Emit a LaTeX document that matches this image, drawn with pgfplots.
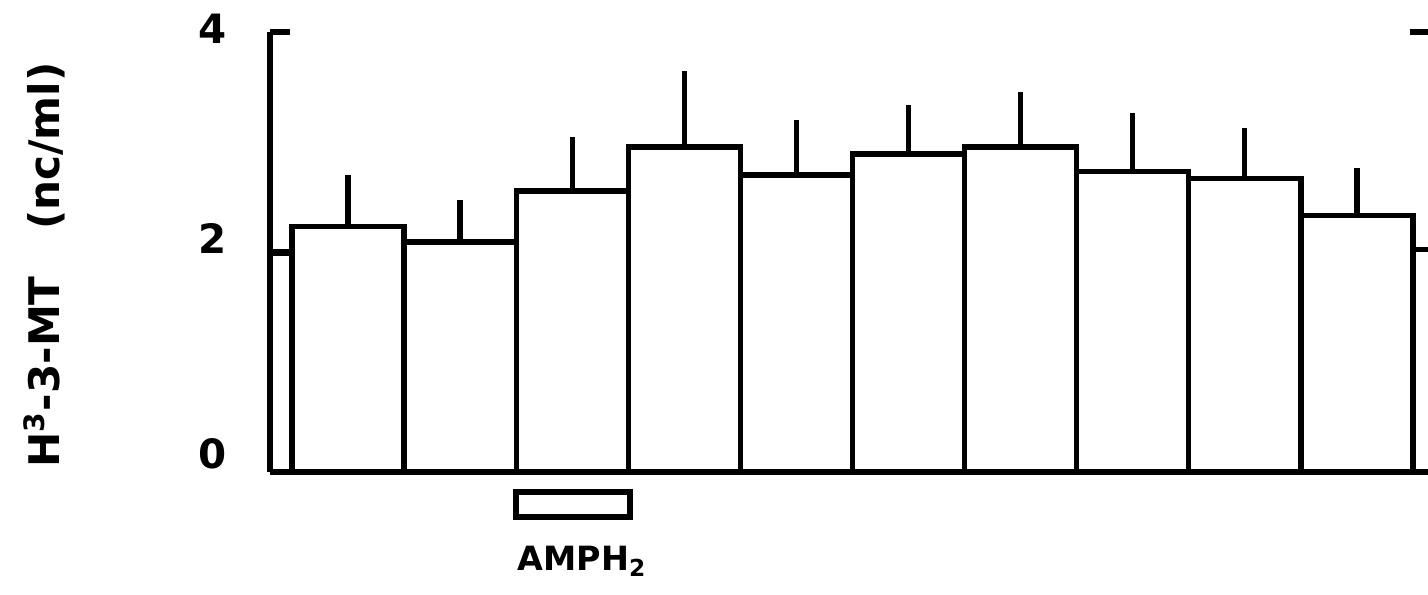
\documentclass[border=0pt]{standalone}
\usepackage{fontspec}
\setmainfont{DejaVu Sans}
\usepackage{graphicx}
\usepackage{pgfplots}
\pgfplotsset{compat=1.18}
\pgfplotstableread{
x y e
0 1.99 0
1 2.23 0.47
2 2.09 0.38
3 2.555 0.49
4 2.955 0.69
5 2.70 0.50
6 2.89 0.45
7 2.955 0.50
8 2.735 0.53
9 2.67 0.46
10 2.33 0.43
11 2.02 0
}\bars
\begin{document}
\begin{tikzpicture}
\begin{axis}[
  at={(0,0)}, anchor=south west,
  scale only axis, width=11.58cm, height=4.40cm,
  xmin=0.304, xmax=10.634, ymin=0, ymax=4,
  axis on top,
  axis x line=bottom, axis y line=left,
  axis line style={-, line width=1.5pt, black},
  xtick=\empty, ytick={0,2,4},
  yticklabels={\raisebox{0.18cm}[\height][\depth]{0},\raisebox{0.14cm}[\height][\depth]{2},\raisebox{0.03cm}[\height][\depth]{4}},
  tick align=inside, major tick length=0.2cm,
  tick style={line width=1.5pt, black},
  yticklabel style={font=\fontsize{11.5}{13}\selectfont\bfseries, anchor=east, xshift=-0.31cm},
  /pgf/number format/assume math mode=true,
  ylabel={H\textsuperscript{3}-3-MT\hspace{1.1em}(nc/ml)},
  ylabel style={at={(axis description cs:-0.195,0.47)}, anchor=center, font=\fontsize{12}{14}\selectfont\bfseries},
]
\addplot[ybar, bar width=1, fill=white, draw=black, line width=1.5pt,
  error bars/.cd, y dir=plus, y explicit, error mark=none,
  error bar style={line width=1.5pt, black}]
  table[x=x, y=y, y error=e] {\bars};
\coordinate (amphA) at (axis cs:2.499,-0.182);
\coordinate (amphB) at (axis cs:3.516,-0.409);
\coordinate (amphT) at (axis cs:2.508,-0.891);
\coordinate (rtA) at (axis cs:10.47,4);
\coordinate (rtB) at (axis cs:10.634,4);
\end{axis}
\draw[line width=1.5pt] (amphA) rectangle (amphB);
\node[anchor=base west, inner sep=0pt, font=\fontsize{9.5}{11}\selectfont\bfseries] at (amphT) {AMPH\textsubscript{2}};
\draw[line width=1.5pt] (rtA) -- (rtB);
\pgfresetboundingbox
\path (-2.70,-1.22) rectangle (11.58,4.72);
\end{tikzpicture}
\end{document}
